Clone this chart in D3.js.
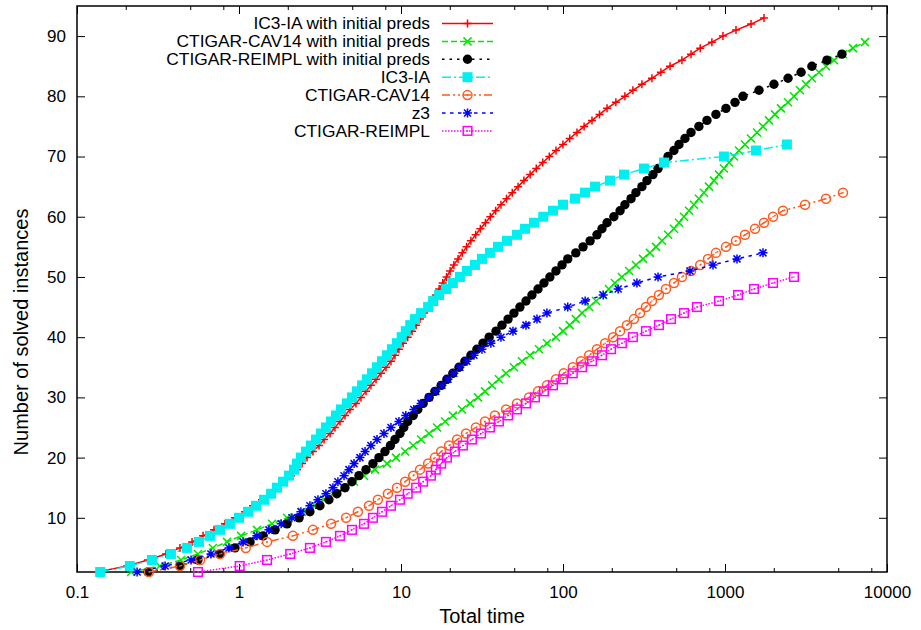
<!DOCTYPE html>
<html>
<head>
<meta charset="utf-8">
<script src="https://cdn.jsdelivr.net/npm/d3@7"></script>
<style>
  body { margin: 0; background: #fff; }
  text { font-family: "Liberation Sans", Arial, sans-serif; fill: #000; }
</style>
</head>
<body>
<div id="chart"></div>
<script>
// solved instances n = index + 1, value = total time
const ic3iaInit = [0.133,0.204,0.274,0.354,0.432,0.513,0.600,0.701,0.819,0.944,
  1.089,1.22,1.387,1.554,1.716,1.895,2.09,2.28,2.45,2.63,
  2.86,3.12,3.35,3.65,3.91,4.20,4.51,4.84,5.27,5.66,
  6.08,6.52,7.01,7.52,8.08,8.67,9.18,9.71,10.3,11.0,
  11.7,12.4,13.1,13.9,14.7,15.5,16.4,17.2,18.1,19.1,
  20.1,21.2,22.5,23.9,25.4,27.0,28.9,30.9,33.2,35.6,
  38.4,41.4,44.8,48.6,52.8,57.4,62.7,68.4,75.0,82.3,
  90.5,99.9,110,122,135,151,168,187,212,241,
  270,307,354,402,458,542,617,703,830,971,
  1169,1448,1740]

const cav14Init = [0.216,0.325,0.439,0.558,0.690,0.843,1.03,1.29,1.60,1.98,
  2.45,2.95,3.35,3.80,4.45,5.13,5.91,6.91,8.19,9.31,
  10.6,11.9,13.3,14.9,16.7,18.7,20.9,23.8,26.7,29.9,
  33.0,36.5,40.2,44.5,49.8,55.8,62.5,71.1,79.6,90.5,
  100,110,120,131,145,160,177,192,209,231,
  256,282,312,344,375,408,445,484,520,558,
  600,643,690,741,796,855,918,985,1059,1137,
  1220,1329,1447,1577,1716,1869,2035,2216,2450,2666,
  2903,3160,3440,3800,4200,4710,5350,6170,7310]

const reimplInit = [0.274,0.432,0.558,0.763,0.944,1.17,1.41,1.67,1.98,2.35,
  2.74,3.16,3.59,4.02,4.51,4.98,5.50,6.08,6.71,7.31,
  7.96,8.60,9.18,9.85,10.4,11.0,11.9,12.7,13.7,14.9,
  16.2,17.7,19.2,20.9,22.8,24.8,27.0,29.4,32.1,35.0,
  38.6,42.0,45.8,49.8,54.2,59.1,64.3,70.1,76.3,83.0,
  90.5,98.6,107,120,133,147,162,174,187,206,
  225,241,263,282,307,330,359,386,420,445,
  484,520,566,617,690,774,879,1014,1153,1291,
  1622,2005,2450,2950,3440,4260,5270]

const ic3ia = [0.139,0.212,0.290,0.380,0.477,0.566,0.662,0.763,0.879,1.00,
  1.137,1.273,1.427,1.577,1.716,1.869,2.035,2.185,2.28,2.41,
  2.59,2.78,2.99,3.21,3.44,3.70,3.97,4.26,4.64,4.98,
  5.35,5.75,6.16,6.62,7.11,7.63,8.19,8.79,9.44,10.1,
  10.7,11.4,12.2,13.3,14.7,15.8,17.2,19.0,20.9,23.1,
  25.5,28.6,31.6,35.4,39.7,45.1,52.0,58.3,66.2,75.6,
  86.7,100,118.6,136.7,157.7,195,238,316,420,985,
  1555,2410]

const cav14 = [0.278,0.432,0.575,0.763,1.10,1.49,2.15,2.86,3.70,4.58,
  5.42,6.34,7.20,8.30,9.44,10.6,11.9,13.1,14.7,16.2,
  17.7,19.8,22.2,25.2,29.0,33.0,38.0,44.5,52.0,61.7,
  70.1,79.6,90.5,101,115,129,145,162,182,204,
  225,248,274,299,325,354,391,432,484,542,
  617,703,785,879,1014,1169,1329,1532,1740,1980,
  2280,3120,4200,5350]

const z3 = [0.235,0.350,0.506,0.671,0.867,1.06,1.29,1.53,1.82,2.12,
  2.41,2.74,3.07,3.44,3.80,4.08,4.45,4.77,5.13,5.58,
  6.00,6.52,7.11,7.85,8.67,9.71,10.7,12.0,13.3,14.9,
  16.4,17.9,19.5,21.2,23.1,25.5,28.2,31.6,35.9,41.4,
  49.1,59.1,69.1,79.6,107,137,177,219,286,386,
  608,843,1186,1716]

const reimpl = [0.558,1.01,1.49,2.07,2.74,3.44,4.20,4.98,5.91,6.71,
  7.63,8.67,9.85,11.0,12.4,13.7,15.3,16.4,17.7,19.2,
  21.5,24.1,27.4,31.2,35.4,40.2,45.8,52.0,59.1,67.1,
  76.3,86.7,100,115,131,151,174,198,231,270,
  325,391,464,558,671,918,1203,1510,1980,2666]

const seriesNames = ["IC3-IA with initial preds", "CTIGAR-CAV14 with initial preds",
  "CTIGAR-REIMPL with initial preds", "IC3-IA", "CTIGAR-CAV14", "z3", "CTIGAR-REIMPL"]
const seriesTimes = [ic3iaInit, cav14Init, reimplInit, ic3ia, cav14, z3, reimpl]

const xTicks = [0.1, 1, 10, 100, 1000, 10000]
const xMinor = [2, 5, 8]
const yTicks = [10, 20, 30, 40, 50, 60, 70, 80, 90]

const styles = [
  {color: "#ff0000", dash: null, marker: "plus"},
  {color: "#00e600", dash: "6,3", marker: "cross"},
  {color: "#000000", dash: "2.5,5", marker: "dot"},
  {color: "#00f0f0", dash: "9,3,2,3", marker: "square"},
  {color: "#ff5a1e", dash: "8,3,2,3,2,3", marker: "circle"},
  {color: "#0000ff", dash: "3.5,4.5", marker: "star"},
  {color: "#ff00ff", dash: "1.5,1.5", marker: "box"}
]

const W = 921, H = 630
const margin = {top: 6, right: 34, bottom: 58, left: 77}
const width = W - margin.left - margin.right,
    height = H - margin.top - margin.bottom

const svg = d3.select("#chart")
    .append("svg")
    .attr("width", W)
    .attr("height", H)
    .append("g")
    .attr("transform", `translate(${margin.left},${margin.top})`)

const x = d3.scaleLog()
    .domain([0.1, 10000])
    .range([0, width])

const y = d3.scaleLinear()
    .domain([1, 95])
    .range([height, 0])

const minorVals = []
xTicks.slice(0, -1).forEach(t => xMinor.forEach(m => minorVals.push(t * m)))

svg.append("g")
    .attr("transform", `translate(0,${height})`)
    .call(d3.axisBottom(x).tickValues(xTicks).tickSize(-8).tickPadding(14).tickFormat(d => String(d)))
svg.append("g")
    .attr("transform", `translate(0,${height})`)
    .call(d3.axisBottom(x).tickValues(minorVals).tickSize(-4).tickFormat(""))
svg.append("g")
    .call(d3.axisTop(x).tickValues(xTicks).tickSize(-8).tickFormat(""))
svg.append("g")
    .call(d3.axisTop(x).tickValues(minorVals).tickSize(-4).tickFormat(""))
svg.append("g")
    .call(d3.axisLeft(y).tickValues(yTicks).tickSize(-8).tickPadding(11))
svg.append("g")
    .attr("transform", `translate(${width},0)`)
    .call(d3.axisRight(y).tickValues(yTicks).tickSize(-8).tickFormat(""))

svg.selectAll(".domain").remove()
svg.selectAll(".tick line").attr("stroke", "#000").attr("stroke-width", 1)
svg.selectAll(".tick text")
    .style("font-size", "17px")
    .style("font-family", "'Liberation Sans', Arial, sans-serif")

svg.append("rect")
    .attr("width", width)
    .attr("height", height)
    .attr("fill", "none")
    .attr("stroke", "#000")
    .attr("stroke-width", 1.5)

svg.append("text")
    .attr("x", width / 2)
    .attr("y", height + 51)
    .attr("text-anchor", "middle")
    .style("font-size", "20px")
    .text("Total time")

svg.append("text")
    .attr("transform", `translate(${-49},${height / 2 + 43}) rotate(-90)`)
    .attr("text-anchor", "middle")
    .style("font-size", "20px")
    .text("Number of solved instances")

function drawMarker(g, kind, color) {
    if (kind === "plus") {
        g.append("path").attr("d", "M-4,0H4M0,-4V4").attr("stroke", color).attr("stroke-width", 1.5)
    } else if (kind === "cross") {
        g.append("path").attr("d", "M-4,-4L4,4M-4,4L4,-4").attr("stroke", color).attr("stroke-width", 1.5)
    } else if (kind === "star") {
        g.append("path").attr("d", "M-4.5,0H4.5M0,-4.5V4.5M-3.5,-3.5L3.5,3.5M-3.5,3.5L3.5,-3.5")
            .attr("stroke", color).attr("stroke-width", 1.5)
    } else if (kind === "dot") {
        g.append("circle").attr("r", 4.7).attr("fill", color)
    } else if (kind === "square") {
        g.append("rect").attr("x", -5).attr("y", -5).attr("width", 10).attr("height", 10).attr("fill", color)
    } else if (kind === "circle") {
        g.append("circle").attr("r", 4.5).attr("fill", "none").attr("stroke", color).attr("stroke-width", 1.5)
        g.append("circle").attr("r", 0.8).attr("fill", color)
    } else if (kind === "box") {
        g.append("rect").attr("x", -4.3).attr("y", -4.3).attr("width", 8.6).attr("height", 8.6)
            .attr("fill", "none").attr("stroke", color).attr("stroke-width", 1.5)
        g.append("circle").attr("r", 0.8).attr("fill", color)
    }
}

const line = d3.line()
    .x(d => x(d.t))
    .y(d => y(d.n))

seriesTimes.forEach((times, i) => {
    const st = styles[i]
    const pts = times.map((t, j) => ({t: t, n: j + 1}))
    const g = svg.append("g").attr("class", "series")

    g.append("path")
        .datum(pts)
        .attr("d", line)
        .attr("fill", "none")
        .attr("stroke", st.color)
        .attr("stroke-width", 1.5)
        .attr("stroke-dasharray", st.dash)

    g.selectAll("g.mark")
        .data(pts)
        .join("g")
        .attr("class", "mark")
        .attr("transform", d => `translate(${x(d.t)},${y(d.n)})`)
        .each(function() { drawMarker(d3.select(this), st.marker, st.color) })
})

// legend, top left inside the frame
const legend = svg.append("g")
    .attr("transform", "translate(353,17.5)")

seriesNames.forEach((name, i) => {
    const st = styles[i]
    const row = legend.append("g").attr("transform", `translate(0,${i * 17.9})`)
    // slightly widened glyphs so rows keep the tight spacing of the original
    row.append("text")
        .attr("transform", "scale(1.1,1)")
        .attr("x", 0)
        .attr("dy", "0.36em")
        .attr("text-anchor", "end")
        .style("font-size", "15.8px")
        .text(name)
    row.append("line")
        .attr("x1", 12).attr("x2", 63)
        .attr("stroke", st.color)
        .attr("stroke-width", 1.5)
        .attr("stroke-dasharray", st.dash)
    drawMarker(row.append("g").attr("transform", "translate(37.5,0)"), st.marker, st.color)
})
</script>
</body>
</html>
